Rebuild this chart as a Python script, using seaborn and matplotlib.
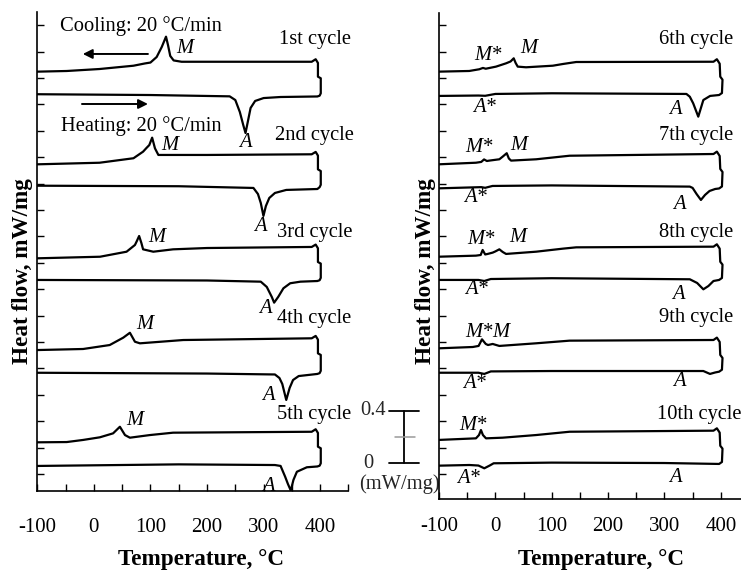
import numpy as np
import pandas as pd
import matplotlib
matplotlib.use("Agg")
import matplotlib.pyplot as plt
import seaborn as sns

# ---- DSC loops: heating run (-100 -> 400 C), turn-around, cooling run (400 -> -100 C)
# heat flow in mW/mg, each cycle shifted vertically for display
c1_T = [-100, 100, 240, 250, 258, 264, 268, 272, 277, 285, 300, 330, 395, 399, 401, 401, 396, 396, 392, 385,
        155, 141, 135, 131, 127.5, 120, 111, 100, 90, 70, 10, -48, -100]
c1_hf = [2.877, 2.871, 2.861, 2.833, 2.742, 2.644, 2.583, 2.667, 2.773, 2.826, 2.848, 2.856, 2.860, 2.866, 2.884,
         2.998, 3.010, 3.114, 3.142, 3.123, 3.123, 3.133, 3.167, 3.250, 3.313, 3.235, 3.159, 3.117, 3.110, 3.093,
         3.068, 3.053, 3.048]

c2_T = [-100, 150, 282, 290, 295, 299.7, 304, 310, 320, 340, 395, 399, 401, 401, 396, 396, 392, 385, 200, 114,
        108, 103, 98, 93, 87, 70, 10, -100]
c2_hf = [2.184, 2.180, 2.167, 2.121, 2.053, 1.955, 2.030, 2.091, 2.129, 2.152, 2.159, 2.173, 2.191, 2.295, 2.308,
         2.412, 2.440, 2.422, 2.417, 2.417, 2.467, 2.548, 2.492, 2.470, 2.442, 2.392, 2.358, 2.346]

c3_T = [-100, 200, 295, 305.6, 314.5, 318.6, 326, 335, 347, 365, 395, 399, 401, 401, 396, 396, 392, 385, 200, 140,
        105, 87, 84, 80, 76, 72.6, 57.8, 11, -100]
c3_hf = [1.470, 1.466, 1.457, 1.417, 1.341, 1.298, 1.343, 1.407, 1.445, 1.457, 1.462, 1.468, 1.486, 1.594, 1.606,
         1.710, 1.738, 1.720, 1.712, 1.702, 1.684, 1.702, 1.750, 1.803, 1.765, 1.735, 1.684, 1.646, 1.634]

c4_T = [-100, 200, 320, 328, 333, 340, 346, 352, 362, 395, 399, 401, 401, 396, 396, 392, 385, 158, 81.4, 72.6,
        63.7, 52, 28, -19, -100]
c4_hf = [0.767, 0.761, 0.754, 0.727, 0.682, 0.561, 0.652, 0.712, 0.742, 0.758, 0.764, 0.782, 0.902, 0.914, 1.018,
         1.046, 1.028, 1.015, 0.990, 1.002, 1.070, 1.033, 0.977, 0.947, 0.939]

c5_T = [-100, 150, 320, 330, 338, 343, 348, 352.7, 358.8, 376.4, 395, 399, 401, 401, 396, 396, 392, 385, 140, 99,
        63.7, 55, 46, 34, 10.6, -19, -48, -100]
c5_hf = [0.061, 0.073, 0.068, 0.061, -0.020, -0.076, -0.125, -0.045, 0.017, 0.051, 0.057, 0.063, 0.081, 0.195,
         0.207, 0.311, 0.339, 0.320, 0.313, 0.295, 0.275, 0.295, 0.358, 0.308, 0.278, 0.258, 0.242, 0.240]

c6_T = [-100, -30, -18, 0, 100, 339, 345, 351, 360, 369, 381, 397, 402, 403, 399, 398, 393, 387, 143.5, 120,
        102, 54.5, 39.7, 36, 32.6, 27, 19, 1.2, -17, -22, -28.5, -46.3, -100]
c6_hf = [2.864, 2.867, 2.865, 2.879, 2.884, 2.879, 2.858, 2.808, 2.707, 2.833, 2.864, 2.871, 2.886, 2.987, 3.010,
         3.108, 3.142, 3.123, 3.121, 3.106, 3.093, 3.081, 3.086, 3.114, 3.149, 3.125, 3.111, 3.086, 3.070, 3.076,
         3.066, 3.053, 3.048]

c7_T = [-100, -25, -18, -5, 100, 345, 350, 357, 364.7, 372, 380, 390, 397, 402, 403, 399, 398, 393, 387, 131.7,
        72.4, 27.9, 24, 20.2, 13, 7.1, -10.7, -15, -20, -25, -34.4, -100]
c7_hf = [2.164, 2.173, 2.168, 2.182, 2.186, 2.177, 2.167, 2.121, 2.076, 2.114, 2.144, 2.159, 2.163, 2.178, 2.288,
         2.311, 2.409, 2.442, 2.424, 2.411, 2.384, 2.374, 2.390, 2.430, 2.404, 2.384, 2.374, 2.371, 2.383, 2.364,
         2.358, 2.346]

c8_T = [-100, -30, -19.6, -8, 100, 345, 358, 369, 378, 387, 397, 402, 403, 399, 398, 393, 387, 143.5, 119.8, 72.4,
        19, 13, 7.1, 0, -4.7, -13.6, -18, -22.5, -26, -34.4, -100]
c8_hf = [1.470, 1.470, 1.462, 1.477, 1.483, 1.475, 1.447, 1.399, 1.424, 1.462, 1.470, 1.485, 1.586, 1.608, 1.707,
         1.740, 1.722, 1.717, 1.707, 1.684, 1.667, 1.682, 1.702, 1.686, 1.677, 1.667, 1.663, 1.697, 1.659, 1.654,
         1.646]

c9_T = [-100, -30, -19.6, -8, 100, 369, 380.8, 390, 397, 402, 403, 399, 398, 393, 387, 131.7, 72.4, 7.1, -4.7,
        -13, -17, -23.7, -29.7, -40, -100]
c9_hf = [0.767, 0.767, 0.758, 0.777, 0.780, 0.780, 0.758, 0.769, 0.775, 0.790, 0.879, 0.902, 1.000, 1.033, 1.015,
         1.010, 0.990, 0.970, 0.985, 0.977, 0.985, 1.020, 0.970, 0.962, 0.952]

c10_T = [-100, -46, -30, -19.6, -10, -3, 100, 300, 397, 402, 403, 399, 398, 393, 387, 131.7, 72.4, 13, -16.6, -22,
         -25.5, -29, -34.4, -100]
c10_hf = [0.063, 0.068, 0.064, 0.043, 0.064, 0.081, 0.086, 0.083, 0.076, 0.091, 0.192, 0.214, 0.313, 0.346, 0.328,
          0.320, 0.295, 0.275, 0.270, 0.295, 0.333, 0.295, 0.270, 0.258]

cycle_labels = ["1st cycle", "2nd cycle", "3rd cycle", "4th cycle", "5th cycle",
                "6th cycle", "7th cycle", "8th cycle", "9th cycle", "10th cycle"]
x_ticks = [-100, 0, 100, 200, 300, 400]
scale_bar_mw = 0.4

left_loops = [(c1_T, c1_hf), (c2_T, c2_hf), (c3_T, c3_hf), (c4_T, c4_hf), (c5_T, c5_hf)]
right_loops = [(c6_T, c6_hf), (c7_T, c7_hf), (c8_T, c8_hf), (c9_T, c9_hf), (c10_T, c10_hf)]

sns.set_theme(style="ticks")
plt.rcParams["font.family"] = ["Liberation Serif", "DejaVu Serif"]
plt.rcParams["axes.unicode_minus"] = False

fig = plt.figure(figsize=(7.41, 5.71), dpi=100)
fig.patch.set_facecolor("white")
axL = fig.add_axes([0.0503, 0.1401, 0.4200, 0.8389])
axR = fig.add_axes([0.5924, 0.1256, 0.4184, 0.8522])


def draw_loop(ax, T, hf):
    df = pd.DataFrame({"T": T, "hf": hf})
    sns.lineplot(data=df, x="T", y="hf", sort=False, estimator=None, color="black",
                 lw=1.6, ax=ax, solid_joinstyle="round", solid_capstyle="round")


for T, hf in left_loops:
    draw_loop(axL, T, hf)
for T, hf in right_loops:
    draw_loop(axR, T, hf)

for ax, pad in ((axL, 19.5), (axR, 12.5)):
    ax.set_xlim(-100, 450)
    ax.set_xlabel("")
    ax.set_ylabel("")
    ax.set_facecolor("white")
    for side in ("top", "right"):
        ax.spines[side].set_visible(False)
    for side in ("left", "bottom"):
        ax.spines[side].set_linewidth(1.2)
        ax.spines[side].set_color("black")
    ax.set_xticks(x_ticks)
    ax.set_xticklabels([str(t) for t in x_ticks])
    ax.set_xticks(np.arange(-50, 451, 100), minor=True)
    ax.tick_params(axis="x", which="both", direction="in", length=5, width=1, color="black",
                   labelsize=15, pad=pad, labelcolor="black")
    ax.set_yticks(np.arange(0, 3.41, 0.2))
    ax.tick_params(axis="y", direction="in", length=5, width=1, color="black", labelleft=False)

axL.set_ylim(-0.1288, 3.5)
axR.set_ylim(-0.1917, 3.4947)

tkw = dict(fontsize=14.8, color="black", ha="center", va="center")
ikw = dict(tkw, fontstyle="italic")

# cycle names
for lab, y in zip(cycle_labels[:5], [3.288, 2.561, 1.828, 1.180, 0.447]):
    axL.text(390, y, lab, clip_on=False, **tkw)
for lab, y in zip(cycle_labels[5:], [3.288, 2.561, 1.828, 1.182, 0.447]):
    axR.text(356 if lab != "10th cycle" else 361, y, lab, clip_on=False, **tkw)

# rate annotations with arrows
axL.text(84, 3.394, "Cooling: 20 \u00b0C/min", **tkw)
axL.text(83, 2.636, "Heating: 20 \u00b0C/min", **tkw)
arr = dict(arrowstyle="-|>", color="black", lw=1.4, mutation_scale=14, shrinkA=0, shrinkB=0)
axL.annotate("", xy=(-19.5, 3.182), xytext=(95.6, 3.182), arrowprops=arr)
axL.annotate("", xy=(95.6, 2.803), xytext=(-21, 2.803), arrowprops=arr)

# phase labels, left panel
for x, y, s in [(161, 3.227, "M"), (267, 2.508, "A"), (134.5, 2.492, "M"), (294, 1.873, "A"),
                (111.5, 1.790, "M"), (302.7, 1.255, "A"), (90, 1.129, "M"), (308, 0.598, "A"),
                (72.6, 0.409, "M"), (308, -0.091, "A")]:
    axL.text(x, y, s, **ikw)

# phase labels, right panel
for x, y, s in [(-12.5, 3.174, "M*"), (58.7, 3.220, "M"), (-19.6, 2.780, "A*"), (318.5, 2.758, "A"),
                (-29.4, 2.470, "M*"), (41, 2.485, "M"), (-35.6, 2.091, "A*"), (327, 2.038, "A"),
                (-25.8, 1.780, "M*"), (40, 1.795, "M"), (-33, 1.394, "A*"), (324, 1.356, "A"),
                (-30, 1.070, "M*"), (9, 1.070, "M"), (-37, 0.689, "A*"), (327, 0.700, "A"),
                (-40, 0.371, "M*"), (-48, -0.038, "A*"), (318.5, -0.023, "A")]:
    axR.text(x, y, s, **ikw)

# heat-flow scale bar between the panels
y0, y1 = 0.08, 0.08 + scale_bar_mw
ym = (y0 + y1) / 2
bkw = dict(color="black", lw=1.3, clip_on=False)
axL.plot([548.7, 548.7], [y0, y1], **bkw)
axL.plot([522, 575], [y1, y1], **bkw)
axL.plot([522, 575], [y0, y0], **bkw)
axL.plot([532.7, 568], [ym, ym], color="#9a9a9a", lw=1.1, clip_on=False)
axL.text(516, y1, f"{scale_bar_mw:g}", fontsize=14.8, ha="right", va="center", clip_on=False)
axL.text(485, y0, "0", fontsize=14.8, ha="center", va="center", clip_on=False)
axL.text(540, -0.076, "(mW/mg)", fontsize=14.8, ha="center", va="center", clip_on=False)

# axis titles
lkw = dict(fontsize=16.7, fontweight="bold", color="black")
fig.text(23 / 741, 1 - 271 / 571, "Heat flow, mW/mg", rotation=90, ha="center", va="center", **lkw)
fig.text(425 / 741, 1 - 271 / 571, "Heat flow, mW/mg", rotation=90, ha="center", va="center", **lkw)
fig.text(201 / 741, 1 - 565 / 571, "Temperature, \u00b0C", ha="center", va="baseline", **lkw)
fig.text(601 / 741, 1 - 565 / 571, "Temperature, \u00b0C", ha="center", va="baseline", **lkw)

fig.savefig("out.png", dpi=100, facecolor="white")
